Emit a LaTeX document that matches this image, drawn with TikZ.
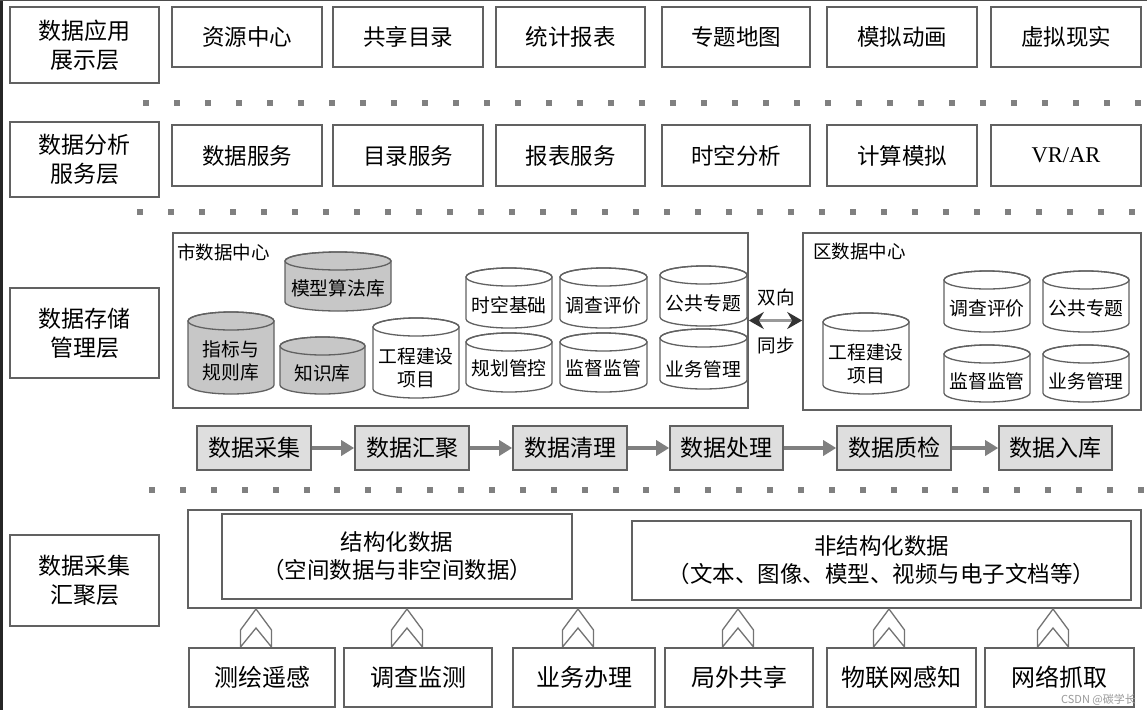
\documentclass[tikz,border=0pt]{standalone}
\usepackage{fontspec}
\setmainfont{Liberation Serif}
\newfontfamily\cjk{Noto Sans CJK SC}
\usetikzlibrary{arrows.meta}
\definecolor{lc}{gray}{0.38}
\definecolor{dotc}{gray}{0.5}
\tikzset{
  bd/.style={draw=lc, line width=1.6pt, rectangle, inner sep=0pt, align=center},
  lbl/.style={font=\cjk\fontsize{23}{29}\selectfont},
  tb/.style={font=\cjk\fontsize{22.5}{27}\selectfont},
  cf/.style={font=\cjk\fontsize{18.8}{23}\selectfont, align=center, inner sep=0pt},
  proc/.style={fill=black!13, font=\cjk\fontsize{23}{27}\selectfont},
  cb/.style={font=\cjk\fontsize{22.5}{28}\selectfont},
  bt/.style={font=\cjk\fontsize{24}{28}\selectfont},
  small/.style={font=\cjk\fontsize{18.5}{22}\selectfont, inner sep=0pt},
  procarrow/.style={draw=black!50, line width=3.5pt, -{Triangle[width=15pt,length=13pt]}},
  dbl/.style={draw=black!40, line width=3pt, {Stealth[width=17pt,length=15pt,inset=5pt,color=black!80]}-{Stealth[width=17pt,length=15pt,inset=5pt,color=black!80]}},
  chev/.style={draw=black!55, line width=1.3pt, line join=miter},
}
% \bx[style]{name}{x1}{y1}{x2}{y2}{text}
\newcommand\bx[7][]{\node[bd,#1,minimum width={(#5-#3)*1pt},minimum height={(#6-#4)*1pt}] (#2) at ({(#3+#5)/2},{(#4+#6)/2}) {#7};}
% \cyl[font]{name}{x1}{y1}{x2}{y2}{fill}{ty}{text}
\newcommand\cyl[9][cf]{%
  \path[fill=#7,draw=lc,line width=1.3pt] (#3,{#4+9}) -- (#3,{#6-9})
    arc[start angle=180,end angle=0,x radius={(#5-#3)/2},y radius=9] -- (#5,{#4+9})
    arc[start angle=0,end angle=-180,x radius={(#5-#3)/2},y radius=9] -- cycle;
  \draw[draw=lc,line width=1.3pt] ({(#3+#5)/2},{#4+9}) ellipse[x radius={(#5-#3)/2},y radius=9];
  \node[#1] (#2) at ({(#3+#5)/2},#8) {#9};}
\newcommand\chevron[1]{\draw[chev] ({#1-15.5},647) -- ({#1-15.5},630) -- (#1,609) -- ({#1+15.5},630) -- ({#1+15.5},647) -- (#1,628) -- cycle;}
\begin{document}
\begin{tikzpicture}[x=1pt,y=-1pt]
\useasboundingbox (0,0) rectangle (1147,710);
\fill[white] (0,0) rectangle (1147,710);
\fill[black!85] (0,0) rectangle (2.5,710);
\fill[black!70] (0,0) rectangle (1147,1);

% left labels
\bx[lbl]{L1}{10}{7}{159}{83}{数据应用\\展示层}
\bx[lbl]{L2}{10}{122}{159}{197}{数据分析\\服务层}
\bx[lbl]{L3}{10}{288}{159}{378}{数据存储\\管理层}
\bx[lbl]{L4}{10}{535}{159}{626}{数据采集\\汇聚层}

% row 1
\bx[tb]{a1}{172}{7}{322}{67}{资源中心}
\bx[tb]{a2}{333}{7}{483}{67}{共享目录}
\bx[tb]{a3}{496}{7}{645}{67}{统计报表}
\bx[tb]{a4}{662}{7}{810}{67}{专题地图}
\bx[tb]{a5}{827}{7}{977}{67}{模拟动画}
\bx[tb]{a6}{991}{7}{1141}{67}{虚拟现实}

% row 2
\bx[tb]{s1}{172}{125}{322}{186}{数据服务}
\bx[tb]{s2}{333}{125}{483}{186}{目录服务}
\bx[tb]{s3}{496}{125}{645}{186}{报表服务}
\bx[tb]{s4}{662}{125}{810}{186}{时空分析}
\bx[tb]{s5}{827}{125}{977}{186}{计算模拟}
\bx[tb,font=\fontsize{22.5}{27}\selectfont]{s6}{991}{125}{1141}{186}{VR/AR}

% dotted separators
\foreach \i in {0,...,32} \fill[dotc] ({146+31*\i-3},100) rectangle ++(6,6);
\foreach \i in {0,...,32} \fill[dotc] ({140+31*\i-3},209) rectangle ++(6,6);
\foreach \i in {0,...,32} \fill[dotc] ({152+30.9*\i-3},487) rectangle ++(6,6);

% storage layer
\bx{shi}{173}{233}{748}{408}{}
\bx{qu}{803}{233}{1141}{410}{}
\node[small,anchor=west] (shil) at (177,252) {市数据中心};
\node[small,anchor=west] (qul) at (813,251) {区数据中心};

\cyl{c1}{285}{252}{391}{311}{black!22}{288}{模型算法库}
\cyl{c2}{188}{312}{274}{394}{black!22}{361}{指标与\\规则库}
\cyl{c3}{280}{337}{365}{394}{black!22}{373}{知识库}
\cyl{c4}{373}{318}{459}{398}{white}{368}{工程建设\\项目}
\cyl{c5}{466}{268}{552}{328}{white}{305}{时空基础}
\cyl{c6}{560}{268}{647}{328}{white}{305}{调查评价}
\cyl{c7}{660}{266}{747}{326}{white}{303}{公共专题}
\cyl{c8}{466}{333}{552}{392}{white}{368}{规划管控}
\cyl{c9}{560}{333}{647}{392}{white}{368}{监督监管}
\cyl{c10}{660}{329}{747}{389}{white}{369}{业务管理}

\cyl{d1}{823}{313}{909}{394}{white}{364}{工程建设\\项目}
\cyl{d2}{944}{271}{1030}{332}{white}{308}{调查评价}
\cyl{d3}{1043}{271}{1129}{332}{white}{308}{公共专题}
\cyl{d4}{944}{345}{1030}{402}{white}{381}{监督监管}
\cyl{d5}{1043}{345}{1129}{402}{white}{381}{业务管理}

\draw[dbl] (shi.east) -- (shi.east -| qu.west);
\node[small] (sx1) at (776,297) {双向};
\node[small] (sx2) at (776,345) {同步};

% process row
\bx[proc]{p1}{197}{426}{311}{470}{数据采集}
\bx[proc]{p2}{355}{426}{469}{470}{数据汇聚}
\bx[proc]{p3}{513}{426}{627}{470}{数据清理}
\bx[proc]{p4}{670}{426}{783}{470}{数据处理}
\bx[proc]{p5}{837}{426}{951}{470}{数据质检}
\bx[proc]{p6}{999}{426}{1112}{470}{数据入库}
\draw[procarrow] (p1) -- (p2);
\draw[procarrow] (p2) -- (p3);
\draw[procarrow] (p3) -- (p4);
\draw[procarrow] (p4) -- (p5);
\draw[procarrow] (p5) -- (p6);

% collection layer
\bx{coll}{188}{510}{1141}{608}{}
\bx[cb]{st}{222}{514}{572}{599}{结构化数据\\（空间数据与非空间数据）}
\bx[cb]{ust}{632}{521}{1131}{600}{非结构化数据\\（文本、图像、模型、视频与电子文档等）}

\chevron{256}
\chevron{407}
\chevron{578}
\chevron{738}
\chevron{889}
\chevron{1053}

\bx[bt]{b1}{189}{648}{335}{707}{测绘遥感}
\bx[bt]{b2}{344}{648}{492}{707}{调查监测}
\bx[bt]{b3}{513}{648}{655}{707}{业务办理}
\bx[bt]{b4}{665}{648}{813}{707}{局外共享}
\bx[bt]{b5}{827}{648}{976}{707}{物联网感知}
\bx[bt]{b6}{985}{648}{1134}{707}{网络抓取}

\node[font=\cjk\fontsize{11}{11}\selectfont, text=black!40, anchor=east, inner sep=0pt] (wm) at (1136,699.5) {CSDN @碳学长};
\end{tikzpicture}
\end{document}
